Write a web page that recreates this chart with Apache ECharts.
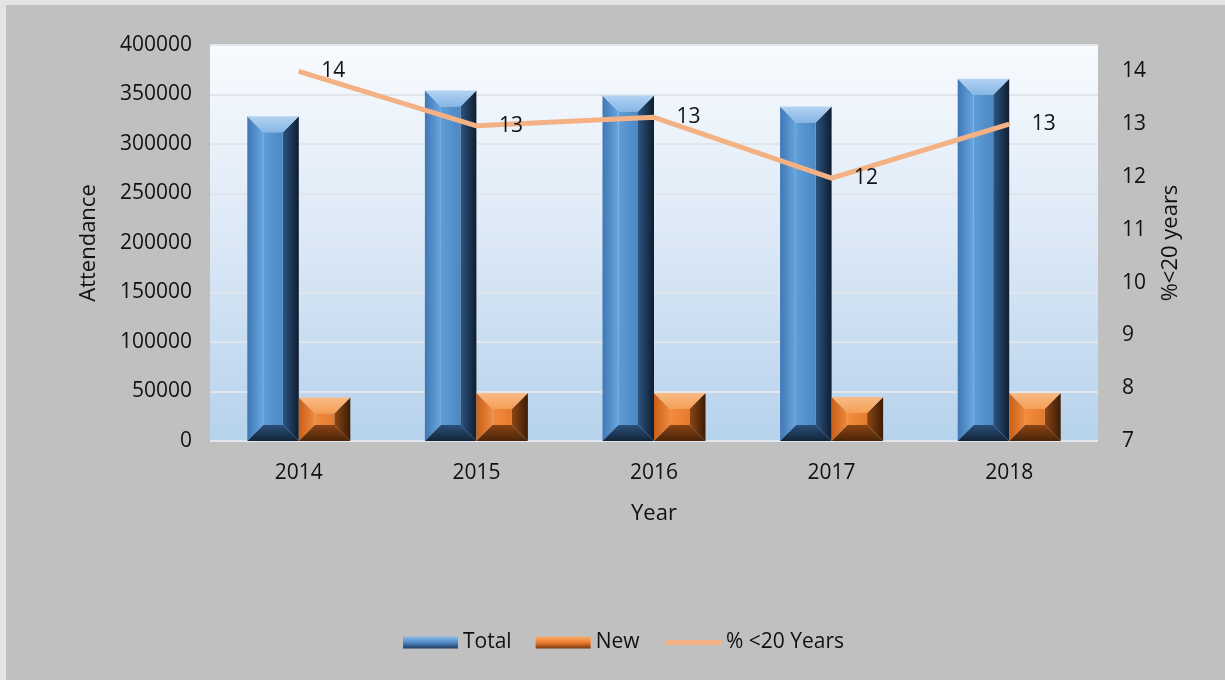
<!DOCTYPE html>
<html>
<head>
<meta charset="utf-8">
<script src="https://cdn.jsdelivr.net/npm/echarts@6/dist/echarts.min.js"></script>
<style>
html,body{margin:0;padding:0;background:#c0c0c0;}
#main{width:1225px;height:680px;}
</style>
</head>
<body>
<div id="main"></div>
<script>
const years = ['2014', '2015', '2016', '2017', '2018'];
const totalValues = [328000, 354000, 349000, 338000, 366000];
const newValues = [44000, 48500, 48500, 44400, 48500];
const pctUnder20 = [14.0, 12.97, 13.13, 11.98, 13.0];
const leftTicks = { min: 0, max: 400000, interval: 50000 };
const rightTicks = { min: 7, max: 14.5, interval: 1 };

const FONT = 'Open Sans';
const FS = 21;
const chart = echarts.init(document.getElementById('main'));

function lin(x0, y0, x1, y1, stops) {
  return new echarts.graphic.LinearGradient(x0, y0, x1, y1, stops.map((c, i) => ({ offset: i / (stops.length - 1), color: c })));
}

const palettes = [
  { top: lin(0,0,0,1,['#b3d3f2','#86b6e6']), left: lin(0,0,1,0,['#3f78b5','#6aa6df']), face: lin(0,0,1,0,['#5d9dd8','#4d88c3']),
    right: lin(0,0,1,0,['#2c5582','#0f1d2e']), bottom: lin(0,0,0,1,['#2b4f7a','#132438']) },
  { top: lin(0,0,0,1,['#f9bb85','#f49e55']), left: lin(0,0,1,0,['#c85f18','#f08a3c']), face: lin(0,0,1,0,['#f28c3e','#e57a2c']),
    right: lin(0,0,1,0,['#8e4614','#3a1c05']), bottom: lin(0,0,0,1,['#8a4414','#4a2408']) }
];

function bevelBar(which) {
  return function (params, api) {
    const idx = api.value(0), val = api.value(1);
    const top = api.coord([idx, val]);
    const base = api.coord([idx, 0]);
    const bw = api.size([1, 0])[0] * 0.29;
    const x0 = which === 0 ? top[0] - bw : top[0];
    const x1 = x0 + bw, y0 = top[1], y1 = base[1];
    const b = Math.min(16, (y1 - y0) / 2 - 1, bw / 2 - 4);
    const p = palettes[which];
    const poly = (pts, fill) => ({ type: 'polygon', shape: { points: pts }, style: { fill: fill } });
    return {
      type: 'group',
      children: [
        poly([[x0,y0],[x0+b,y0+b],[x0+b,y1-b],[x0,y1]], p.left),
        poly([[x1,y0],[x1,y1],[x1-b,y1-b],[x1-b,y0+b]], p.right),
        poly([[x0,y1],[x0+b,y1-b],[x1-b,y1-b],[x1,y1]], p.bottom),
        poly([[x0,y0],[x1,y0],[x1-b,y0+b],[x0+b,y0+b]], p.top),
        { type: 'rect', shape: { x: x0 + b, y: y0 + b, width: bw - 2 * b, height: Math.max(0, y1 - y0 - 2 * b) }, style: { fill: p.face } }
      ]
    };
  };
}

const option = {
  backgroundColor: '#c0c0c0',
  textStyle: { fontFamily: FONT },
  graphic: [
    { type: 'rect', shape: { x: 0, y: 0, width: 1225, height: 5 }, style: { fill: '#e4e4e4' }, z: -1 },
    { type: 'rect', shape: { x: 0, y: 0, width: 6, height: 680 }, style: { fill: '#e4e4e4' }, z: -1 }
  ],
  grid: {
    left: 210, right: 127, top: 45, bottom: 239,
    show: true, borderWidth: 0,
    backgroundColor: lin(0, 0, 0, 1, ['#f8fbfe', '#dbe8f6', '#b6d2ec'])
  },
  legend: {
    bottom: 22, left: 398,
    itemWidth: 55, itemHeight: 12, itemGap: 24,
    textStyle: { fontFamily: FONT, fontSize: FS, color: '#111' },
    data: [
      { name: 'Total', icon: 'rect', itemStyle: { color: lin(0,0,0,1,['#8fbbe8','#4f8ac6','#1f3d60']) } },
      { name: 'New', icon: 'rect', itemStyle: { color: lin(0,0,0,1,['#f7ad6c','#ec7d31','#7a3a0e']) } },
      { name: '% <20 Years', itemStyle: { opacity: 0 }, lineStyle: { width: 5, color: '#f4b183' } }
    ]
  },
  xAxis: {
    type: 'category', data: years,
    name: 'Year', nameLocation: 'middle', nameGap: 62,
    nameTextStyle: { fontFamily: FONT, fontSize: 22, color: '#111' },
    axisLine: { show: false }, axisTick: { show: false },
    axisLabel: { fontFamily: FONT, fontSize: FS, color: '#111', margin: 22 }
  },
  yAxis: [
    {
      type: 'value', min: leftTicks.min, max: leftTicks.max, interval: leftTicks.interval,
      name: 'Attendance', nameLocation: 'middle', nameGap: 110, nameRotate: 90,
      nameTextStyle: { fontFamily: FONT, fontSize: 22, color: '#111' },
      axisLine: { show: false }, axisTick: { show: false },
      axisLabel: { fontFamily: FONT, fontSize: FS, color: '#111', margin: 18, formatter: v => String(v) },
      splitLine: { lineStyle: { color: '#e0e6ec', width: 2 } }
    },
    {
      type: 'value', min: rightTicks.min, max: rightTicks.max, interval: rightTicks.interval,
      name: '%<20 years', nameLocation: 'middle', nameGap: 62, nameRotate: 90,
      nameTextStyle: { fontFamily: FONT, fontSize: 22, color: '#111' },
      axisLine: { show: false }, axisTick: { show: false },
      axisLabel: { fontFamily: FONT, fontSize: FS, color: '#111', margin: 24, showMaxLabel: false,
        formatter: v => (Number.isInteger(v) ? String(v) : '') },
      splitLine: { show: false }
    }
  ],
  series: [
    {
      name: 'Total', type: 'custom', renderItem: bevelBar(0),
      itemStyle: { color: '#5b9bd5' },
      encode: { x: 0, y: 1 },
      data: totalValues.map((v, i) => [i, v]), z: 2
    },
    {
      name: 'New', type: 'custom', renderItem: bevelBar(1),
      itemStyle: { color: '#ed7d31' },
      encode: { x: 0, y: 1 },
      data: newValues.map((v, i) => [i, v]), z: 2
    },
    {
      name: '% <20 Years', type: 'line', yAxisIndex: 1,
      data: pctUnder20,
      symbol: 'circle', symbolSize: 1,
      itemStyle: { color: '#f4b183' },
      lineStyle: { color: '#f4b183', width: 5 },
      label: { show: true, position: 'right', distance: 22, fontFamily: FONT, fontSize: FS, color: '#111',
        formatter: p => String(Math.round(p.value)) },
      z: 5
    }
  ]
};
chart.setOption(option);
</script>
</body>
</html>
